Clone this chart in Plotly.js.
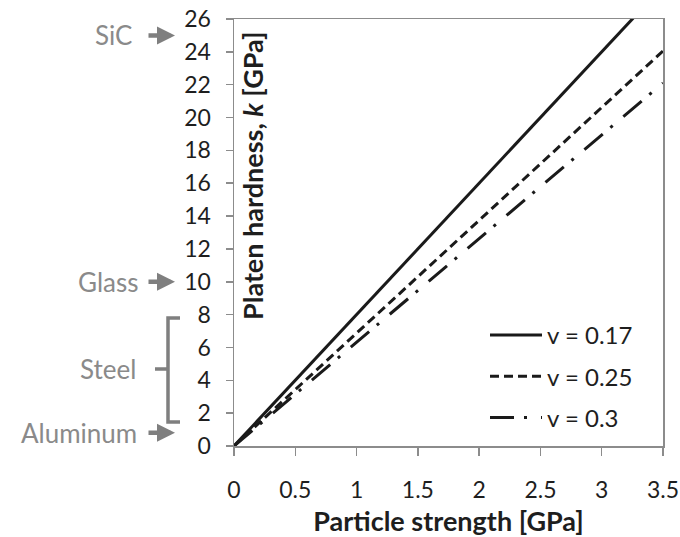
<!DOCTYPE html>
<html><head><meta charset="utf-8">
<script src="https://cdn.plot.ly/plotly-3.0.1.min.js"></script>
<style>html,body{margin:0;padding:0;background:#fff}#chart{width:680px;height:537px}</style>
</head><body><div id="chart"></div>
<script>
// Data
const strength = [0, 0.5, 1, 1.5, 2, 2.5, 3, 3.5];          // Particle strength [GPa]
const k_v017 = [0, 4, 8, 12, 16, 20, 24, 28];                // ν = 0.17
const k_v025 = [0, 3.44, 6.87, 10.31, 13.74, 17.18, 20.61, 24.05]; // ν = 0.25
const k_v030 = [0, 3.16, 6.31, 9.47, 12.63, 15.79, 18.94, 22.1];   // ν = 0.3
const seriesNames = ['v = 0.17', 'v = 0.25', 'v = 0.3'];
const xTicks = [0, 0.5, 1, 1.5, 2, 2.5, 3, 3.5];
const xTickText = ['0', '0.5', '1', '1.5', '2', '2.5', '3', '3.5'];
const yTicks = [0,2,4,6,8,10,12,14,16,18,20,22,24,26];

const FONT = 'Lato, "Open Sans", sans-serif';
const GRAY = '#8a8a8a';
const AX = '#8c8c8c';
const W = 429, L = 234;
const px = p => (p - L) / W;

const lineCol = '#1a1a1a';
const traces = [
  {x: strength, y: k_v017, name: seriesNames[0], mode: 'lines', legendgroup: 'a',
   line: {color: lineCol, width: 3, dash: 'solid'}},
  {x: strength, y: k_v025, name: seriesNames[1], mode: 'lines', legendgroup: 'b',
   line: {color: lineCol, width: 3, dash: '9px,5px'}},
  {x: strength, y: k_v030, name: seriesNames[2], mode: 'lines', legendgroup: 'c',
   line: {color: lineCol, width: 3, dash: '24px,10px,3px,14px'}}
];

const arrow = (xHead, y) => ({xref: 'paper', yref: 'y', x: px(xHead), y: y, text: '',
  showarrow: true, arrowhead: 2, arrowsize: 0.8, arrowwidth: 4.5, arrowcolor: '#7f7f7f',
  ax: -28, ay: 0});
const label = (t, xRight, y) => ({xref: 'paper', yref: 'y', x: px(xRight), y: y, text: t,
  showarrow: false, xanchor: 'right', yanchor: 'middle', font: {family: FONT, size: 26, color: GRAY}});

const layout = {
  width: 680, height: 537,
  margin: {l: L, r: 680 - L - W, t: 19, b: 91, pad: 0},
  paper_bgcolor: '#fff', plot_bgcolor: '#fff',
  font: {family: FONT, size: 23, color: '#1e1e1e'},
  showlegend: true,
  legend: {x: px(485), y: (446 - 313) / 427, xanchor: 'left', yanchor: 'top',
    bgcolor: 'rgba(255,255,255,0)', borderwidth: 0, traceorder: 'grouped', tracegroupgap: 7,
    itemwidth: 52, font: {family: FONT, size: 24, color: '#1e1e1e'}},
  xaxis: {range: [0, 3.5], tickvals: xTicks, ticktext: xTickText, ticks: 'outside', ticklen: 8,
    tickwidth: 1.5, tickcolor: AX, showline: true, linecolor: AX, linewidth: 1.5, mirror: true,
    showgrid: false, zeroline: false, ticklabelstandoff: 15,
    tickfont: {family: FONT, size: 23, color: '#1e1e1e'},
    title: {text: '<b>Particle strength [GPa]</b>', standoff: 14,
      font: {family: FONT, size: 27, color: '#1e1e1e'}}},
  yaxis: {range: [0, 26], tickvals: yTicks, ticks: 'outside', ticklen: 7, tickwidth: 1.5,
    tickcolor: AX, showline: true, linecolor: AX, linewidth: 1.5, mirror: true,
    showgrid: false, zeroline: false, ticklabelstandoff: 10,
    tickfont: {family: FONT, size: 23, color: '#1e1e1e'}},
  annotations: [
    {xref: 'paper', yref: 'paper', x: px(252), y: (446 - 30) / 427, xanchor: 'center', yanchor: 'top',
     textangle: -90, showarrow: false, text: '<b>Platen hardness, <i>k</i> [GPa]</b>',
     font: {family: FONT, size: 27, color: '#1e1e1e'}},
    label('SiC', 134, 25), arrow(175, 25),
    label('Glass', 140, 10), arrow(175, 10),
    label('Steel', 138, 4.69),
    label('Aluminum', 139, 0.8), arrow(175, 0.8)
  ],
  shapes: [
    {type: 'path', xref: 'paper', yref: 'y',
     path: `M ${px(180)},7.79 L ${px(168)},7.79 L ${px(168)},1.46 L ${px(180)},1.46 M ${px(168)},4.69 L ${px(155)},4.69`,
     line: {color: '#7f7f7f', width: 3.5}}
  ]
};

Plotly.newPlot('chart', traces, layout, {displayModeBar: false, staticPlot: true});
</script></body></html>
